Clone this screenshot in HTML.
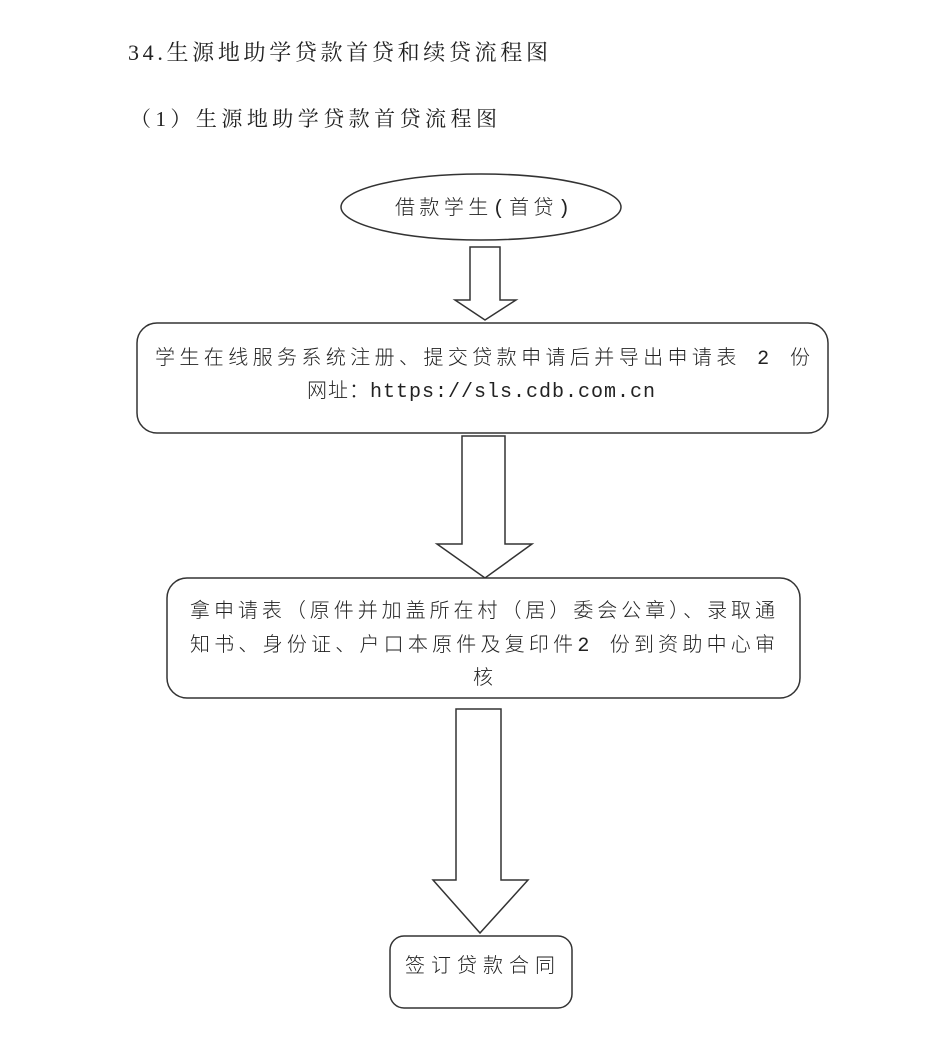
<!DOCTYPE html>
<html><head><meta charset="utf-8"><style>
html,body{margin:0;padding:0;background:#fff;}
svg{display:block}
text{font-family:"Liberation Serif","Noto Serif CJK SC",serif;fill:#222;}
text.s{font-family:"Liberation Mono","Noto Sans CJK SC",sans-serif;font-weight:300;}
</style></head><body>
<svg width="950" height="1043" viewBox="0 0 950 1043" xmlns="http://www.w3.org/2000/svg">
<text x="128" y="60" font-size="22" textLength="420" lengthAdjust="spacing">34.生源地助学贷款首贷和续贷流程图</text>
<text x="130" y="126" font-size="21" textLength="367" lengthAdjust="spacing">（1）生源地助学贷款首贷流程图</text>
<g fill="#fff" stroke="#333" stroke-width="1.5">
<ellipse cx="481" cy="207" rx="140" ry="33"/>
<polygon points="470,247 500,247 500,300 516,300 485,320 455,300 470,300"/>
<rect x="137" y="323" width="691" height="110" rx="20"/>
<polygon points="462,436 505,436 505,544 532,544 485,578 437,544 462,544"/>
<rect x="167" y="578" width="633" height="120" rx="20"/>
<polygon points="456,709 501,709 501,880 528,880 480,933 433,880 456,880"/>
<rect x="390" y="936" width="182" height="72" rx="14"/>
</g>
<g font-size="20">
<text class="s" x="395" y="214" textLength="175" lengthAdjust="spacing">借款学生(首贷)</text>
<text class="s" x="155" y="364" textLength="655" lengthAdjust="spacing">学生在线服务系统注册、提交贷款申请后并导出申请表 2 份</text>
<text class="s" x="307" y="397" textLength="348" lengthAdjust="spacing">网址：https://sls.cdb.com.cn</text>
<text class="s" x="190" y="617" textLength="585" lengthAdjust="spacing">拿申请表（原件并加盖所在村（居）委会公章）、录取通</text>
<text class="s" x="190" y="651" textLength="585" lengthAdjust="spacing">知书、身份证、户口本原件及复印件2 份到资助中心审</text>
<text class="s" x="473" y="684">核</text>
<text class="s" x="405" y="972" textLength="150" lengthAdjust="spacing">签订贷款合同</text>
</g>
</svg>
</body></html>
